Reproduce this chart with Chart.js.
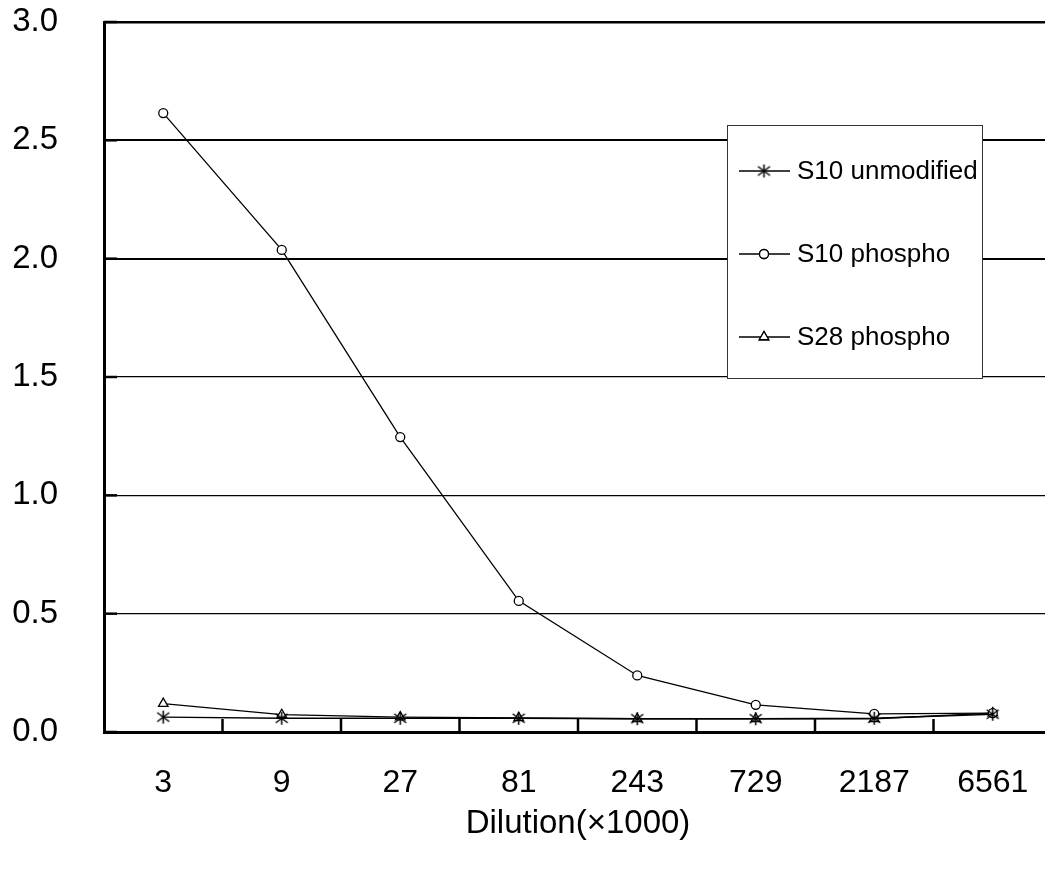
<!DOCTYPE html>
<html>
<head>
<meta charset="utf-8">
<script src="https://cdn.jsdelivr.net/npm/chart.js@4.4.1/dist/chart.umd.min.js"></script>
<style>
  html, body { margin: 0; padding: 0; background: #fff; overflow: hidden; }
  #wrap { position: relative; width: 1060px; height: 874px; }
</style>
</head>
<body>
<div id="wrap"><canvas id="c"></canvas></div>
<script>
// ---- data ----
const categories = ['3', '9', '27', '81', '243', '729', '2187', '6561'];
const seriesNames = ['S10 unmodified', 'S10 phospho', 'S28 phospho'];
const s10Unmodified = [0.063, 0.058, 0.058, 0.058, 0.056, 0.056, 0.058, 0.075];
const s10Phospho    = [2.615, 2.037, 1.246, 0.554, 0.239, 0.115, 0.077, 0.080];
const s28Phospho    = [0.120, 0.073, 0.063, 0.060, 0.056, 0.056, 0.056, 0.080];
const yTicks = [0, 0.5, 1.0, 1.5, 2.0, 2.5, 3.0];
const xTitle = 'Dilution(×1000)';

// ---- custom Excel-like star marker ----
function makeStar() {
  const c = document.createElement('canvas');
  c.width = 15; c.height = 15;
  const g = c.getContext('2d');
  g.strokeStyle = '#000';
  g.lineWidth = 1.5;
  g.beginPath();
  g.moveTo(7.5, 1); g.lineTo(7.5, 14);
  g.moveTo(1.5, 3); g.lineTo(13.5, 12);
  g.moveTo(13.5, 3); g.lineTo(1.5, 12);
  g.stroke();
  return c;
}
const starImg = makeStar();

const styles = [
  { pointStyle: starImg, radius: 6 },
  { pointStyle: 'circle', radius: 4.5 },
  { pointStyle: 'triangle', radius: 5.5 }
];
const values = [s10Unmodified, s10Phospho, s28Phospho];

const datasets = seriesNames.map((name, i) => ({
  label: name,
  data: values[i],
  borderColor: '#000',
  backgroundColor: '#fff',
  borderWidth: 1.3,
  pointStyle: styles[i].pointStyle,
  pointRadius: styles[i].radius,
  pointBorderColor: '#000',
  pointBackgroundColor: '#fff',
  pointBorderWidth: 1.3,
  tension: 0,
  fill: false
}));

// ---- inside tick marks + legend box ----
const decorPlugin = {
  id: 'decor',
  beforeDatasetsDraw(chart) {
    const ctx = chart.ctx;
    const area = chart.chartArea;
    const xs = chart.scales.x, ys = chart.scales.y;
    ctx.save();
    ctx.strokeStyle = '#000';
    ctx.lineWidth = 2.5;
    ys.ticks.forEach(t => {
      const y = ys.getPixelForValue(t.value);
      ctx.beginPath(); ctx.moveTo(area.left, y); ctx.lineTo(area.left + 13, y); ctx.stroke();
    });
    const n = categories.length;
    for (let i = 1; i < n; i++) {
      const x = (xs.getPixelForValue(i - 1) + xs.getPixelForValue(i)) / 2;
      ctx.beginPath(); ctx.moveTo(x, area.bottom); ctx.lineTo(x, area.bottom - 13); ctx.stroke();
    }
    ctx.restore();
  },
  afterDraw(chart) {
    const ctx = chart.ctx;
    ctx.save();
    const bx = 727.5, by = 125.5, bw = 255, bh = 253;
    ctx.fillStyle = '#fff';
    ctx.fillRect(bx, by, bw, bh);
    ctx.strokeStyle = '#333';
    ctx.lineWidth = 1;
    ctx.strokeRect(bx, by, bw, bh);
    const rows = [171, 254, 337];
    chart.data.datasets.forEach((ds, i) => {
      const y = rows[i];
      ctx.strokeStyle = '#000';
      ctx.lineWidth = 1.3;
      ctx.beginPath(); ctx.moveTo(739, y); ctx.lineTo(790, y); ctx.stroke();
      const ps = ds.pointStyle;
      if (typeof ps === 'string') {
        ctx.fillStyle = '#fff';
        Chart.helpers.drawPoint(ctx, { pointStyle: ps, radius: ds.pointRadius, borderWidth: 1.3, rotation: 0 }, 764, y);
        ctx.fill(); ctx.stroke();
      } else {
        ctx.drawImage(ps, 764 - ps.width / 2, y - ps.height / 2);
      }
      ctx.fillStyle = '#000';
      ctx.font = '26px "Liberation Sans", Arial, sans-serif';
      ctx.textBaseline = 'middle';
      ctx.textAlign = 'left';
      ctx.fillText(ds.label, 797, y + 1);
    });
    ctx.restore();
  }
};

new Chart(document.getElementById('c'), {
  type: 'line',
  data: { labels: categories, datasets },
  plugins: [decorPlugin],
  options: {
    responsive: true,
    maintainAspectRatio: false,
    animation: false,
    layout: { padding: { top: 22, right: 8, bottom: 0, left: 0 } },
    plugins: { legend: { display: false }, tooltip: { enabled: false } },
    scales: {
      x: {
        type: 'category',
        offset: true,
        grid: { display: false, drawTicks: false },
        border: { display: true, color: '#000', width: 3 },
        ticks: {
          color: '#000',
          padding: 32,
          maxRotation: 0,
          autoSkip: false,
          font: { family: '"Liberation Sans", Arial, sans-serif', size: 32 }
        },
        title: {
          display: true,
          text: xTitle,
          color: '#000',
          font: { family: '"Liberation Sans", Arial, sans-serif', size: 33 },
          padding: { top: 0, bottom: 30 }
        },
        afterFit(scale) { scale.height = 142; scale.paddingLeft = 0; scale.paddingRight = 0; }
      },
      y: {
        min: 0,
        max: 3,
        afterBuildTicks(scale) { scale.ticks = yTicks.map(v => ({ value: v })); },
        grid: {
          color: '#000',
          drawTicks: false,
          lineWidth: (c) => {
            const v = c.tick ? c.tick.value : 0;
            if (v >= 2.99) return 2.6;
            if (v >= 1.99) return 2;
            return 1.3;
          }
        },
        border: { display: true, color: '#000', width: 3 },
        ticks: {
          color: '#000',
          padding: 46,
          callback: (v) => Number(v).toFixed(1),
          font: { family: '"Liberation Sans", Arial, sans-serif', size: 33 }
        },
        afterFit(scale) { scale.width = 104; scale.paddingTop = 0; scale.paddingBottom = 0; }
      }
    }
  }
});
</script>
</body>
</html>
